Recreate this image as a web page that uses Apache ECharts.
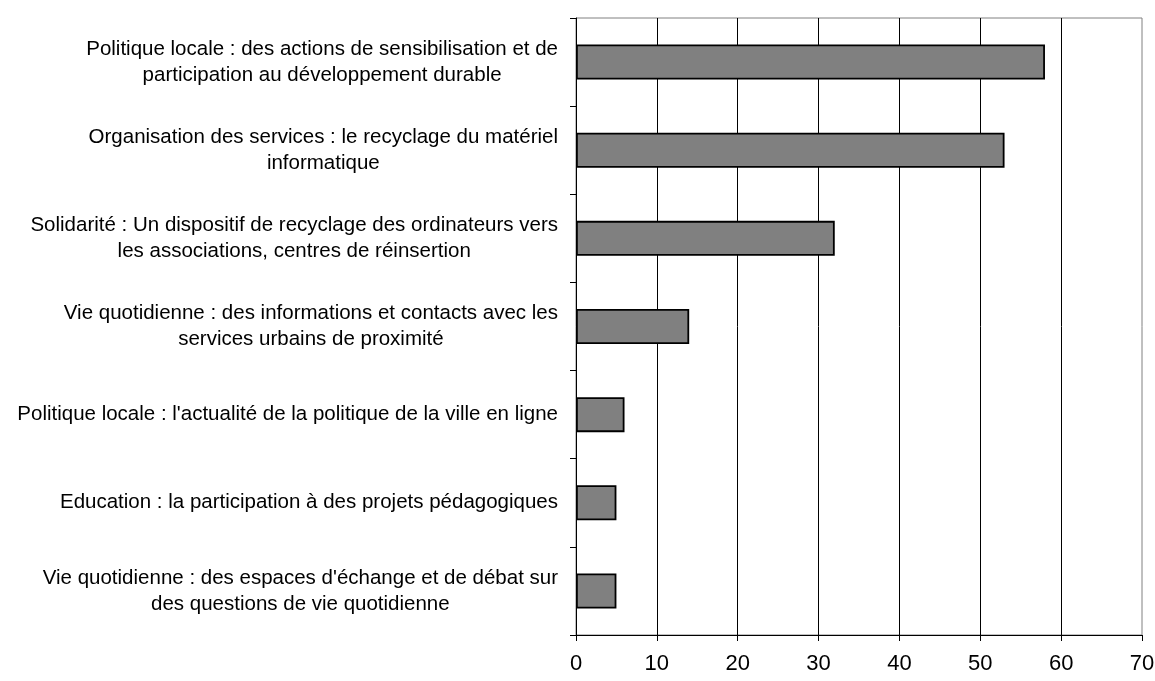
<!DOCTYPE html>
<html>
<head>
<meta charset="utf-8">
<script src="https://cdn.jsdelivr.net/npm/echarts@6/dist/echarts.min.js"></script>
<style>
  html, body { margin: 0; padding: 0; background: #fff; }
  #chart { width: 1155px; height: 681px; }
</style>
</head>
<body>
<div id="chart"></div>
<script>
// Each category is stored as its wrapped lines, top to bottom order.
var categories = [
  ['Politique locale : des actions de sensibilisation et de', 'participation au développement durable'],
  ['Organisation des services : le recyclage du matériel', 'informatique'],
  ['Solidarité : Un dispositif de recyclage des ordinateurs vers', 'les associations, centres de réinsertion'],
  ['Vie quotidienne : des informations et contacts avec les', 'services urbains de proximité'],
  ["Politique locale : l'actualité de la politique de la ville en ligne"],
  ['Education : la participation à des projets pédagogiques'],
  ["Vie quotidienne : des espaces d'échange et de débat sur", 'des questions de vie quotidienne']
];
var values = [58, 53, 32, 14, 6, 5, 5];
var xTicks = { min: 0, max: 70, interval: 10 };

var FONT = '"Liberation Sans", Arial, sans-serif';
var categoryNames = categories.map(function (lines) { return lines.join('\n'); });

var chart = echarts.init(document.getElementById('chart'), null, { renderer: 'canvas' });
chart.setOption({
  backgroundColor: '#ffffff',
  animation: false,
  grid: {
    left: 576, right: 13, top: 18, bottom: 46,
    outerBoundsMode: 'none',
    containLabel: false,
    show: true, borderColor: '#808080', borderWidth: 1, backgroundColor: 'transparent'
  },
  xAxis: {
    type: 'value',
    min: xTicks.min, max: xTicks.max, interval: xTicks.interval,
    axisLine: { show: true, lineStyle: { color: '#000', width: 1 } },
    axisTick: { show: true, length: 6, lineStyle: { color: '#000' } },
    axisLabel: { color: '#000', fontFamily: FONT, fontSize: 22, margin: 18 },
    splitLine: { show: true, showMinLine: false, showMaxLine: false, lineStyle: { color: '#000', width: 1 } }
  },
  yAxis: {
    type: 'category',
    inverse: true,
    data: categoryNames,
    axisLine: { show: true, lineStyle: { color: '#000', width: 1 } },
    axisTick: { show: true, length: 6, inside: false, lineStyle: { color: '#000' } },
    axisLabel: {
      margin: 18,
      align: 'right',
      fontFamily: FONT,
      fontSize: 20.5,
      color: '#000',
      formatter: function (v) {
        return v.split('\n').map(function (l) { return '{c|' + l + '}'; }).join('\n');
      },
      rich: {
        c: { align: 'center', fontFamily: FONT, fontSize: 20.5, color: '#000', lineHeight: 26 }
      }
    },
    splitLine: { show: false }
  },
  series: [{
    type: 'bar',
    data: values,
    barWidth: 35,
    itemStyle: { color: '#808080', borderColor: '#000', borderWidth: 1.8 }
  }]
});
</script>
</body>
</html>
